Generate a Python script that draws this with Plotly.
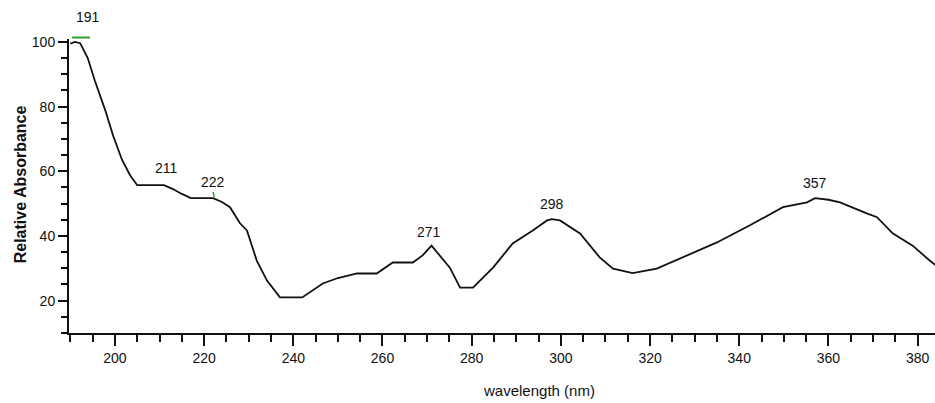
import plotly.graph_objects as go

# UV absorption spectrum
wavelength_nm = [190.0, 191.0, 192.2, 193.9, 195.5, 197.8, 199.6, 201.6, 203.4, 205.0,
                 211.0, 213.0, 215.0, 217.0, 222.0, 224.0, 225.8, 228.0, 229.6, 230.7,
                 231.8, 234.1, 237.0, 242.0, 246.6, 250.0, 254.3, 258.7, 262.3, 266.8,
                 269.0, 271.0, 273.0, 275.1, 277.4, 280.3, 284.8, 289.2, 293.7, 296.9,
                 298.0, 299.8, 304.3, 308.7, 311.7, 316.1, 321.5, 327.4, 335.0, 342.4,
                 349.8, 355.2, 357.0, 360.0, 362.6, 368.6, 370.9, 374.4, 378.9, 382.7, 384.0]
absorbance = [99.5, 100.0, 99.6, 95.0, 88.0, 79.0, 71.0, 63.5, 58.8, 55.7,
              55.7, 54.5, 53.0, 51.7, 51.7, 50.5, 48.9, 44.0, 41.7, 37.0,
              32.4, 26.2, 21.0, 21.0, 25.3, 27.0, 28.4, 28.4, 31.8, 31.8,
              34.0, 37.0, 33.5, 30.2, 24.0, 24.0, 30.2, 37.7, 41.7, 44.8,
              45.2, 44.8, 40.8, 33.4, 29.9, 28.5, 29.9, 33.4, 38.0, 43.3,
              48.9, 50.4, 51.7, 51.2, 50.4, 47.0, 45.8, 40.8, 37.0, 32.4, 31.0]

peak_nm = [191, 211, 222, 271, 298, 357]

x_ticks = [200, 220, 240, 260, 280, 300, 320, 340, 360, 380]
y_ticks = [20, 40, 60, 80, 100]

# label placement (pixel offsets from the curve)
label_dx = [13, 3, 0, -3, 0, 0]
label_dy = [25, 17, 16, 14, 15, 15]

FONT = "Liberation Sans, Arial, sans-serif"
INK = "#111111"
GREEN = "#2ca02c"

fig = go.Figure()
fig.add_trace(go.Scatter(
    x=wavelength_nm, y=absorbance, mode="lines",
    line=dict(color=INK, width=1.8), hoverinfo="skip", showlegend=False,
))

lookup = dict(zip(wavelength_nm, absorbance))
for p, dx, dy in zip(peak_nm, label_dx, label_dy):
    a = lookup[float(p)]
    fig.add_annotation(x=p, y=a, text=str(p), showarrow=False,
                       xshift=dx, yshift=dy, yanchor="middle",
                       font=dict(family=FONT, size=14, color=INK))

# green peak markers
fig.add_shape(type="line", xref="x", yref="paper", x0=190.4, x1=194.4,
              y0=1.005, y1=1.005, line=dict(color=GREEN, width=2))
a222 = lookup[222.0]
fig.add_shape(type="line", xref="x", yref="y", x0=222.0, x1=222.3,
              y0=a222 + 1.9, y1=a222 + 0.3, line=dict(color=GREEN, width=1.5))

tick_font = dict(family=FONT, size=14, color=INK)
fig.update_xaxes(
    range=[189.7, 383.9], tickvals=x_ticks, ticktext=[str(v) for v in x_ticks],
    showgrid=False, zeroline=False, showline=True, linecolor=INK, linewidth=2,
    ticks="outside", ticklen=11, tickwidth=1.5, tickcolor=INK,
    minor=dict(dtick=5, tick0=0, ticks="outside", ticklen=7, tickwidth=1.5, tickcolor=INK),
    tickfont=tick_font,
)
fig.update_yaxes(
    range=[10, 100.9], tickvals=y_ticks, ticktext=[str(v) for v in y_ticks],
    showgrid=False, zeroline=False, showline=True, linecolor=INK, linewidth=2,
    ticks="outside", ticklen=9, tickwidth=1.5, tickcolor=INK,
    minor=dict(dtick=5, tick0=0, ticks="outside", ticklen=6, tickwidth=1.5, tickcolor=INK),
    tickfont=tick_font,
)

# axis titles
fig.add_annotation(text="wavelength (nm)", xref="paper", yref="paper",
                   x=0.543, y=-0.197, xanchor="center", yanchor="middle", showarrow=False,
                   font=dict(family=FONT, size=15, color=INK))
fig.add_annotation(text="<b>Relative Absorbance</b>", xref="paper", yref="paper",
                   x=-0.055, y=0.507, xanchor="center", yanchor="middle", showarrow=False,
                   textangle=-90, font=dict(family=FONT, size=16, color=INK))

fig.update_layout(
    width=935, height=403,
    margin=dict(l=69, r=0, t=39, b=70),
    plot_bgcolor="white", paper_bgcolor="white",
)

fig.write_html("out.html")
